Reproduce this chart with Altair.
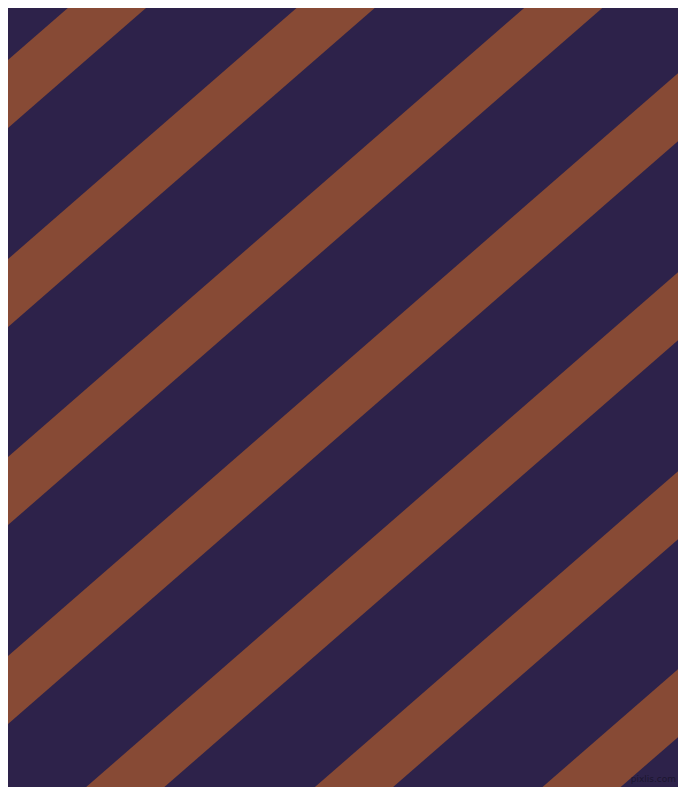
import altair as alt
import pandas as pd

# Stripe geometry (image pixel coordinates, y downward)
stripe_ids = [1, 2, 3, 4, 5, 6, 7]
upper_edge_at_left = [67, 266, 464, 663, 862, 1061, 1259]  # y of upper edge at x=0
stripe_thickness = 68  # vertical thickness
slope = 0.87  # y decreases by this per pixel to the right
x_ends = [-60, 760]

rows = []
for sid, b in zip(stripe_ids, upper_edge_at_left):
    for x in x_ends:
        rows.append({"stripe": sid, "x": x, "top": b - slope * x, "bottom": b + stripe_thickness - slope * x})
df = pd.DataFrame(rows)

watermark = pd.DataFrame({"x": [676], "y": [779], "label": ["pixlis.com"]})

NAVY = "#2d224a"
BROWN = "#874a35"

xs = alt.Scale(domain=[8, 678], nice=False, zero=False)
ys = alt.Scale(domain=[8, 787], nice=False, zero=False, reverse=True)

stripes = alt.Chart(df).mark_area(color=BROWN, clip=True, interpolate="linear").encode(
    x=alt.X("x:Q", scale=xs, axis=None),
    y=alt.Y("top:Q", scale=ys, axis=None, stack=None),
    y2="bottom:Q",
    detail="stripe:N",
)

text = alt.Chart(watermark).mark_text(
    align="right", baseline="middle", fontSize=9, font="DejaVu Sans", color="#1c1630"
).encode(
    x=alt.X("x:Q", scale=xs, axis=None),
    y=alt.Y("y:Q", scale=ys, axis=None),
    text="label:N",
)

chart = (
    alt.layer(stripes, text)
    .properties(width=670, height=779, background=NAVY, padding=0)
    .configure_view(fill=NAVY, strokeWidth=0)
)

chart.save("out.html", embed_options={"renderer": "svg", "actions": False})
